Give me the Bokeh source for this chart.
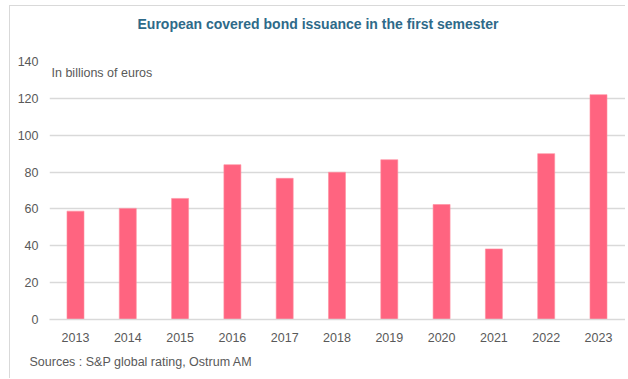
from bokeh.plotting import figure
from bokeh.models import Range1d, FixedTicker, Label, Title
from bokeh.embed import file_html
from bokeh.resources import INLINE

# ---- data ----
years = [2013, 2014, 2015, 2016, 2017, 2018, 2019, 2020, 2021, 2022, 2023]
issuance = [58.8, 60.3, 65.7, 84.0, 76.6, 79.9, 86.7, 62.4, 38.3, 90.0, 122.0]
y_ticks = [0, 20, 40, 60, 80, 100, 120, 140]
title_text = "European covered bond issuance in the first semester"
unit_text = "In billions of euros"
source_text = "Sources : S&P global rating, Ostrum AM"

# ---- layout ----
OFF_X, OFF_Y = 10, 6          # canvas origin on the page (margin + border)
W, H = 616, 373
B_LEFT, B_RIGHT = 39, 1
FRAME_W = W - B_LEFT - B_RIGHT
PX_PER_YEAR = 52.3
X0 = years[0] - 0.497
X1 = X0 + FRAME_W / PX_PER_YEAR
Y0, Y1 = 0, 140
FRAME_TOP, FRAME_BOTTOM = 54.5, 313   # canvas px

FONT = "Liberation Sans"
GREY = "#595959"
GRID = "#D9D9D9"
BAR = "#FF6480"
TITLE_COL = "#2E6A89"


def cx(page_px):
    return X0 + (page_px - OFF_X - B_LEFT) / FRAME_W * (X1 - X0)


def cy(page_py):
    return Y0 + (FRAME_BOTTOM - (page_py - OFF_Y)) / (FRAME_BOTTOM - FRAME_TOP) * (Y1 - Y0)


p = figure(width=W, height=H, output_backend="svg", toolbar_location=None,
           x_range=Range1d(X0, X1), y_range=Range1d(Y0, Y1),
           min_border_left=B_LEFT, min_border_top=0,
           min_border_bottom=0, min_border_right=B_RIGHT,
           background_fill_color="white", border_fill_color="white",
           outline_line_color=None)
p.margin = (5, 0, 0, 9)
p.styles = {"border-top": "1px solid #D9D9D9", "border-left": "1px solid #D9D9D9"}

p.vbar(x=years, top=issuance, width=0.325, fill_color=BAR,
       line_color="#FF8FA0", line_width=0.6)

p.xgrid.grid_line_color = None
p.ygrid.grid_line_color = GRID
p.ygrid.grid_line_width = 1.3
p.yaxis.ticker = FixedTicker(ticks=y_ticks)
p.xaxis.ticker = FixedTicker(ticks=years)

for ax in (p.xaxis, p.yaxis):
    ax.major_tick_line_color = None
    ax.minor_tick_line_color = None
    ax.major_tick_out = 0
    ax.major_tick_in = 0
    ax.minor_tick_out = 0
    ax.major_label_text_font = FONT
    ax.major_label_text_font_size = "12.5px"
    ax.major_label_text_color = GREY

p.yaxis.axis_line_color = None
p.yaxis.major_label_standoff = 11
p.xaxis.axis_line_color = GRID
p.xaxis.axis_line_width = 1.3
p.xaxis.major_label_standoff = 13

# spacer (closest to frame) then the chart title above it
p.add_layout(Title(text=" ", text_font=FONT, text_font_size="2px",
                   standoff=14), "above")
p.add_layout(Title(text=title_text, text_font=FONT, text_font_style="bold",
                   text_font_size="14px", text_color=TITLE_COL,
                   align="left", offset=88, vertical_align="top",
                   standoff=19), "above")

# source line below the x axis
p.add_layout(Title(text=source_text, text_font=FONT, text_font_style="normal",
                   text_font_size="12.5px", text_color=GREY,
                   align="left", offset=-20, vertical_align="middle",
                   standoff=19), "below")

p.add_layout(Label(x=cx(51), y=cy(72), text=unit_text, text_font=FONT,
                   text_font_size="12.5px", text_color=GREY,
                   text_align="left", text_baseline="middle"))

open("out.html", "w").write(file_html(p, INLINE))
